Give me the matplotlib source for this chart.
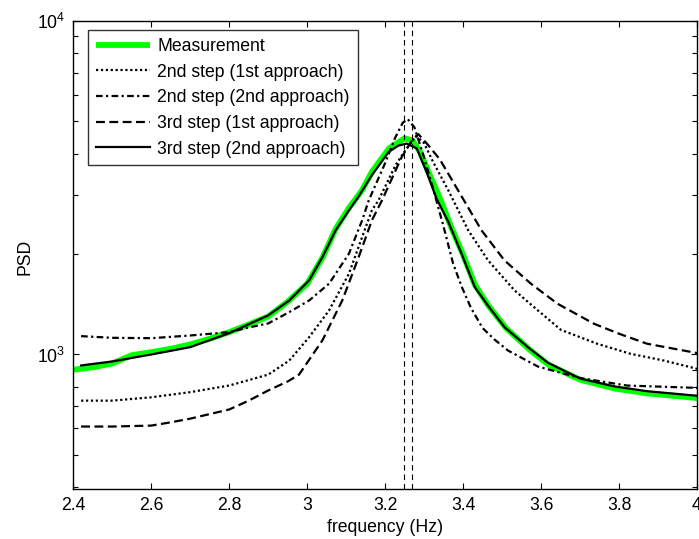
import matplotlib
matplotlib.use("Agg")
import matplotlib.pyplot as plt
from matplotlib.ticker import LogLocator, NullFormatter, FixedLocator

plt.rcParams['font.family'] = ['Liberation Sans', 'DejaVu Sans']
plt.rcParams['mathtext.fontset'] = 'custom'
plt.rcParams['mathtext.rm'] = 'Liberation Sans'
plt.rcParams['mathtext.it'] = 'Liberation Sans'
plt.rcParams['mathtext.default'] = 'regular'

# ---- data ----
meas_x = [2.40, 2.45, 2.50, 2.55, 2.60, 2.65, 2.70, 2.75, 2.80, 2.85, 2.90, 2.95, 3.00,
          3.04, 3.073, 3.107, 3.14, 3.166, 3.21, 3.25, 3.27, 3.29, 3.31, 3.34, 3.37,
          3.40, 3.43, 3.465, 3.51, 3.57, 3.62, 3.70, 3.79, 3.87, 3.95, 4.00]
meas_y = [900, 915, 940, 995, 1016, 1040, 1072, 1115, 1167, 1230, 1300, 1440, 1630,
          1960, 2380, 2750, 3100, 3530, 4150, 4450, 4380, 4050, 3550, 2950, 2400,
          1990, 1620, 1400, 1200, 1035, 930, 840, 790, 765, 750, 740]

s2a1_x = [2.42, 2.50, 2.60, 2.70, 2.80, 2.90, 2.954, 3.005, 3.056, 3.107, 3.141, 3.166,
          3.183, 3.227, 3.252, 3.28, 3.30, 3.323, 3.362, 3.413, 3.464, 3.532, 3.592,
          3.651, 3.744, 3.829, 3.915, 4.00]
s2a1_y = [727, 727, 744, 771, 807, 870, 959, 1127, 1355, 1746, 2250, 2706,
          2900, 3700, 4100, 4520, 4300, 3780, 3107, 2358, 1915, 1556, 1355,
          1185, 1077, 1005, 959, 906]

s2a2_x = [2.42, 2.50, 2.60, 2.70, 2.80, 2.85, 2.90, 2.954, 3.005, 3.056, 3.107, 3.141,
          3.158, 3.20, 3.225, 3.245, 3.258, 3.275, 3.298, 3.323, 3.349, 3.374, 3.396,
          3.42, 3.45, 3.48, 3.515, 3.592, 3.70, 3.82, 4.00]
s2a2_y = [1135, 1122, 1119, 1140, 1167, 1205, 1239, 1340, 1452, 1630, 2005, 2525,
          2900, 3750, 4450, 4950, 5080, 4800, 3960, 3140, 2440, 1880, 1600,
          1380, 1200, 1110, 1028, 920, 850, 807, 794]

s3a1_x = [2.42, 2.50, 2.60, 2.65, 2.70, 2.80, 2.85, 2.90, 2.95, 2.979, 3.039, 3.09,
          3.132, 3.166, 3.192, 3.242, 3.267, 3.285, 3.31, 3.34, 3.387, 3.447, 3.506,
          3.574, 3.642, 3.736, 3.80, 3.872, 4.00]
s3a1_y = [608, 608, 612, 626, 642, 684, 727, 780, 830, 870, 1102, 1452,
          1958, 2525, 2900, 3900, 4350, 4580, 4250, 3850, 3107, 2358, 1915,
          1630, 1420, 1236, 1154, 1077, 1010]

s3a2_x = [2.42, 2.50, 2.60, 2.70, 2.80, 2.90, 2.954, 3.005, 3.039, 3.073, 3.107, 3.132,
          3.166, 3.209, 3.234, 3.255, 3.281, 3.306, 3.332, 3.362, 3.396, 3.43, 3.464,
          3.506, 3.566, 3.617, 3.70, 3.788, 3.872, 4.00]
s3a2_y = [927, 953, 1000, 1052, 1159, 1310, 1452, 1668, 1958, 2358, 2706, 2980,
          3450, 4050, 4230, 4290, 4150, 3530, 2930, 2500, 2005, 1592, 1400,
          1208, 1052, 945, 847, 802, 776, 752]

vlines_x = [3.248, 3.269]

labels = ['Measurement', '2nd step (1st approach)', '2nd step (2nd approach)',
          '3rd step (1st approach)', '3rd step (2nd approach)']

xticks = [2.4, 2.6, 2.8, 3.0, 3.2, 3.4, 3.6, 3.8, 4.0]
xticklabels = ['2.4', '2.6', '2.8', '3', '3.2', '3.4', '3.6', '3.8', '4']

# ---- figure ----
fig = plt.figure(figsize=(6.99, 5.39), dpi=100)
ax = fig.add_axes([73.3 / 699, 50 / 539, (697 - 73.3) / 699, 468 / 539])

lw = 1.6
ax.plot(meas_x, meas_y, color=(0, 1, 0), lw=4.2, label=labels[0], solid_capstyle='butt')
ax.plot(s2a1_x, s2a1_y, color='k', lw=lw, ls=(0, (1, 1.2)), label=labels[1])
ax.plot(s2a2_x, s2a2_y, color='k', lw=lw, ls=(0, (3, 1.5, 1, 1.5)), label=labels[2])
ax.plot(s3a1_x, s3a1_y, color='k', lw=lw, ls=(0, (4, 2)), label=labels[3])
ax.plot(s3a2_x, s3a2_y, color='k', lw=lw, ls='-', label=labels[4])
for xv in vlines_x:
    ax.axvline(xv, color='k', lw=0.8, ls=(0, (5, 3.5)))

ax.set_yscale('log')
ax.set_xlim(2.4, 4.0)
ax.set_ylim(395, 10000)
ax.set_xticks(xticks)
ax.set_xticklabels(xticklabels)
ax.yaxis.set_major_locator(FixedLocator([1000, 10000]))
ax.yaxis.set_minor_locator(LogLocator(base=10, subs=range(2, 10)))
ax.yaxis.set_minor_formatter(NullFormatter())

fs = 12.7
ax.tick_params(which='both', direction='in', top=True, right=True, labelsize=fs,
               width=0.8, colors='k')
ax.tick_params(which='major', length=4.5, pad=6)
ax.tick_params(which='minor', length=3.5)
for sp in ax.spines.values():
    sp.set_linewidth(1.0)

ax.set_xlabel('frequency (Hz)', fontsize=fs, labelpad=3.5)
ax.set_ylabel('PSD', fontsize=fs)
ax.yaxis.set_label_coords(-0.0646, 0.497)

leg = ax.legend(loc='upper left', bbox_to_anchor=((88 - 73.3) / 623.7, (489 - 30) / 468),
                borderaxespad=0, fontsize=fs, frameon=True, fancybox=False,
                handlelength=3.07, handletextpad=0.4, labelspacing=0.49,
                borderpad=0.45)
leg.get_frame().set_edgecolor('k')
leg.get_frame().set_linewidth(1.0)

fig.savefig('out.png', dpi=100)
